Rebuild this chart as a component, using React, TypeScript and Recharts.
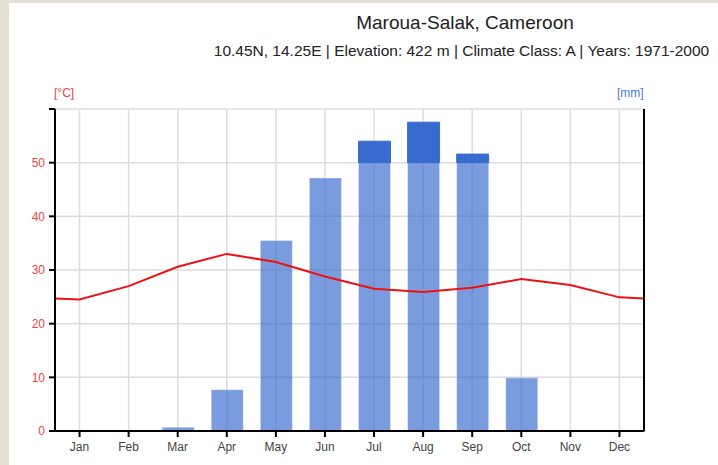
import { ComposedChart, Bar, Line, XAxis, YAxis, CartesianGrid, ReferenceLine } from "recharts";

const months = ["Jan", "Feb", "Mar", "Apr", "May", "Jun", "Jul", "Aug", "Sep", "Oct", "Nov", "Dec"];
const temperature = [24.5, 27.0, 30.6, 33.0, 31.5, 28.8, 26.5, 25.9, 26.7, 28.3, 27.2, 24.9];
const precipitation = [0, 0, 1.4, 15.4, 71, 94.3, 180, 251, 132, 19.8, 0, 0];
// temperature where the line meets the plot edges
const edgeTemperature = 24.7;

const tempTicks = [0, 10, 20, 30, 40, 50, 60];
const precipTicks = [0, 20, 40, 60, 80, 100, 300];

// mm on the °C scale: 2 mm per degree up to 100 mm, then 20 mm per degree
const mmToScale = (mm: number) => (mm <= 100 ? mm / 2 : 50 + (mm - 100) / 20);

const barData = months.map((m, i) => ({
  x: i + 1,
  month: m,
  rain: Math.min(precipitation[i], 100) / 2,
  extra: precipitation[i] > 100 ? (precipitation[i] - 100) / 20 : 0,
}));

// the temperature line runs out to both plot edges
const lineData = [
  { x: 0.5, temp: edgeTemperature },
  ...months.map((_, i) => ({ x: i + 1, temp: temperature[i] })),
  { x: 12.5, temp: edgeTemperature },
];

const xTicks = months.map((_, i) => i + 1);
const font = "'Liberation Sans', Arial, sans-serif";
const axisStyle = { stroke: "#000", strokeWidth: 2 };

export default function App() {
  return (
    <div style={{ position: "absolute", left: 0, top: 0, width: 718, height: 465, background: "#e4dfd3", fontFamily: font }}>
      <div style={{ position: "absolute", left: 9, top: 3, width: 709, height: 462, background: "#fff" }} />
      <div style={{ position: "absolute", left: 0, top: 12, width: 930, textAlign: "center", fontSize: 19, color: "#222" }}>
        Maroua-Salak, Cameroon
      </div>
      <div style={{ position: "absolute", left: 0, top: 42, width: 923, textAlign: "center", fontSize: 15.5, color: "#222" }}>
        10.45N, 14.25E | Elevation: 422 m | Climate Class: A | Years: 1971-2000
      </div>
      <div style={{ position: "absolute", left: 54, top: 86, fontSize: 12, color: "#ee4444" }}>[°C]</div>
      <div style={{ position: "absolute", left: 617, top: 86, fontSize: 12, color: "#4a78d8" }}>[mm]</div>
      <div style={{ position: "absolute", left: 0, top: 0 }}>
        <ComposedChart width={718} height={465} data={barData} margin={{ top: 109, right: 0, bottom: 0, left: 0 }}>
          <CartesianGrid yAxisId="t" stroke="#dddddd" strokeWidth={1.5} horizontalValues={tempTicks} />
          <XAxis
            dataKey="x"
            type="number"
            domain={[0.5, 12.5]}
            ticks={xTicks}
            interval={0}
            height={34}
            tickFormatter={(v: number) => months[v - 1]}
            tick={{ fill: "#444", fontSize: 12, fontFamily: font }}
            axisLine={axisStyle}
            tickLine={axisStyle}
            tickSize={6}
            tickMargin={5}
          />
          <XAxis xAxisId="line" dataKey="x" type="number" domain={[0.5, 12.5]} hide />
          <YAxis
            yAxisId="t"
            domain={[0, 60]}
            ticks={tempTicks}
            interval={0}
            width={55}
            tickFormatter={(v: number) => (v === 60 ? "" : String(v))}
            tick={{ fill: "#ee4444", fontSize: 12, fontFamily: font }}
            axisLine={axisStyle}
            tickLine={axisStyle}
            tickSize={6}
            tickMargin={4}
          />
          <YAxis
            yAxisId="p"
            orientation="right"
            domain={[0, 60]}
            ticks={precipTicks.map(mmToScale)}
            interval={0}
            width={74}
            tickFormatter={(v: number) => String(precipTicks.find((p) => mmToScale(p) === v) ?? "")}
            tick={{ fill: "#4a78d8", fontSize: 12, fontFamily: font }}
            axisLine={axisStyle}
            tickLine={axisStyle}
            tickSize={6}
            tickMargin={4}
          />
          {/* tick marks at both ends of the month axis */}
          <ReferenceLine yAxisId="t" segment={[{ x: 0.5, y: 0 }, { x: 0.5, y: -0.11 }]} stroke="#000" strokeWidth={2} ifOverflow="visible" />
          <ReferenceLine yAxisId="t" segment={[{ x: 12.5, y: 0 }, { x: 12.5, y: -0.11 }]} stroke="#000" strokeWidth={2} ifOverflow="visible" />
          <Bar yAxisId="t" dataKey="rain" stackId="p" barSize={32} fill="#3366cc" fillOpacity={0.65} stroke="#ffffff" strokeOpacity={0.35} isAnimationActive={false} />
          <Bar yAxisId="t" dataKey="extra" stackId="p" barSize={32} fill="#3366cc" fillOpacity={0.97} stroke="#3366cc" strokeOpacity={0.9} isAnimationActive={false} />
          <Line xAxisId="line" yAxisId="t" data={lineData} dataKey="temp" type="linear" stroke="#ee1111" strokeWidth={2} dot={false} isAnimationActive={false} />
        </ComposedChart>
      </div>
    </div>
  );
}
